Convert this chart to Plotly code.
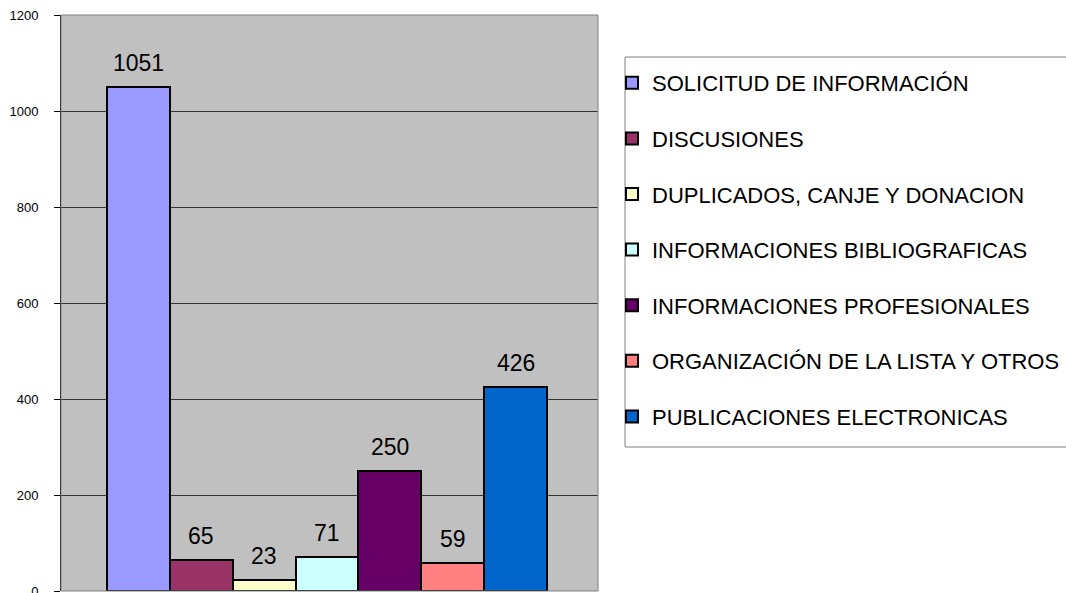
import plotly.graph_objects as go

categories = [
    "SOLICITUD DE INFORMACIÓN",
    "DISCUSIONES",
    "DUPLICADOS, CANJE Y DONACION",
    "INFORMACIONES BIBLIOGRAFICAS",
    "INFORMACIONES PROFESIONALES",
    "ORGANIZACIÓN DE LA LISTA Y OTROS",
    "PUBLICACIONES ELECTRONICAS",
]
values = [1051, 65, 23, 71, 250, 59, 426]
colors = ["#9999FF", "#993366", "#FFFFCC", "#CCFFFF", "#660066", "#FF8080", "#0066CC"]
y_ticks = [0, 200, 400, 600, 800, 1000, 1200]

W, H = 1066, 593
PL, PR, PT, PB = 61, 598, 15, 591  # plot area in pixels
L, R, T, B = PL, W - PR, PT, H - PB


def px_x(sx):
    return (sx - PL) / (PR - PL)


def px_y(sy):
    return (PB - sy) / (PB - PT)


FONT = "Arial, Liberation Sans, sans-serif"

fig = go.Figure()
for i, (c, v, col) in enumerate(zip(categories, values, colors)):
    fig.add_trace(go.Bar(
        x=[c], y=[v], name=c, legendgroup=f"g{i}",
        marker=dict(color=col, line=dict(color="black", width=2)),
        width=1.0,
    ))
    fig.add_annotation(x=c, y=v, text=str(v), showarrow=False, yshift=24,
                       font=dict(family=FONT, size=23, color="black"))

# legend box
fig.add_shape(type="rect", xref="paper", yref="paper",
              x0=px_x(625), x1=px_x(1080), y0=px_y(447), y1=px_y(57),
              line=dict(color="#808080", width=1), fillcolor="white", layer="below")
# plot area border
fig.add_shape(type="rect", xref="paper", yref="paper", x0=0, x1=1, y0=0, y1=1,
              line=dict(color="#808080", width=1), layer="above")

fig.update_layout(
    width=W, height=H,
    margin=dict(l=L, r=R, t=T, b=B, autoexpand=False),
    paper_bgcolor="white",
    plot_bgcolor="#C0C0C0",
    bargap=0,
    font=dict(family=FONT, color="black"),
    showlegend=True,
    legend=dict(
        x=px_x(612), y=px_y(62), xanchor="left", yanchor="top",
        bgcolor="rgba(0,0,0,0)", borderwidth=0,
        font=dict(size=22, family=FONT, color="black"),
        tracegroupgap=24, traceorder="grouped",
    ),
    xaxis=dict(showticklabels=False, ticks="", showgrid=False, zeroline=False,
               range=[-0.5 - 46 / 63, 6.5 + 51 / 63], fixedrange=True),
    yaxis=dict(range=[0, 1200], tickvals=y_ticks, showgrid=True, gridcolor="#333333",
               gridwidth=1, zeroline=False, showline=True, linecolor="black", linewidth=1,
               ticks="outside", ticklen=6, tickcolor="black", ticklabelstandoff=13,
               ticklabeloverflow="allow",
               tickfont=dict(size=13, family=FONT, color="black")),
)

fig.write_html("out.html", config={"displayModeBar": False},
               post_script="document.body.style.margin='0';document.body.style.padding='0';")
